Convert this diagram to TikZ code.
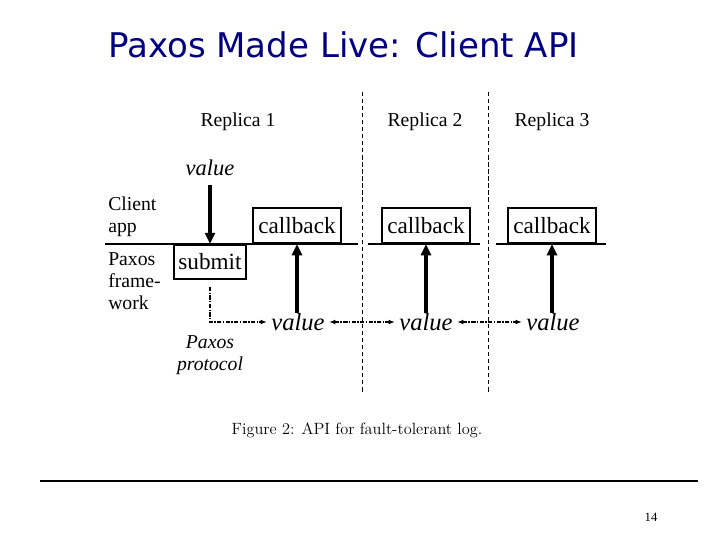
\documentclass[tikz,border=0pt]{standalone}
\usepackage{fontspec}
\setmainfont{Liberation Serif}
\newfontfamily\titlefont{DejaVu Sans}
\newfontfamily\capfont{Latin Modern Roman}
\usepackage{tikz}
\usetikzlibrary{arrows.meta,positioning}
\definecolor{titleblue}{RGB}{0,0,128}
\tikzset{
  lbl/.style={font=\fontsize{14}{15.6}\selectfont, inner sep=0pt, align=left},
  val/.style={font=\fontsize{17.5}{20}\selectfont\itshape, inner sep=0pt},
  apibox/.style={draw, line width=1.4pt, font=\fontsize{16.5}{18}\selectfont, inner sep=0pt,
                 minimum height=0.88cm},
  layer/.style={line width=1.4pt},
  divider/.style={densely dashed, line width=0.5pt},
  bigarrow/.style={-{Triangle[length=8pt,width=7pt]}, line width=2.6pt},
  protline/.style={line width=1pt, dash pattern=on 3pt off 1pt on 1pt off 1pt},
  protarrow/.style={protline, -{Latex[length=4.5pt,width=3.5pt]}},
  protboth/.style={protline, {Latex[length=4.5pt,width=3.5pt]}-{Latex[length=4.5pt,width=3.5pt]}},
}

\begin{document}
\begin{tikzpicture}[x=0.025cm, y=-0.025cm]
\useasboundingbox (0,0) rectangle (720,540);
% title and slide frame
\node[font=\fontsize{24.2}{27}\selectfont\titlefont, text=titleblue, anchor=west, inner sep=0pt] (title) at (108,45) {Paxos Made Live: Client API};
\draw[line width=1pt] (40,481) -- (698,481);
\node[font=\fontsize{9}{10}\selectfont, inner sep=0pt] (page) at (651,517) {14};
% replicas
\draw[divider] (362,92) -- (362,392);
\draw[divider] (488,92) -- (488,392);
\node[lbl] (rep1) at (238,122) {Replica 1};
\node[lbl] (rep2) at (425,122) {Replica 2};
\node[lbl] (rep3) at (552,122) {Replica 3};
% layers
\draw[layer] (105,244) -- (358,244);
\draw[layer] (368,244) -- (480,244);
\draw[layer] (496,244) -- (606,244);
\node[lbl, anchor=north west] (client) at (108,197) {Client\\app};
\node[lbl, anchor=north west] (framework) at (108,252) {Paxos\\frame-\\work};
% boxes
\node[apibox, minimum width=1.8cm, minimum height=0.85cm, anchor=north] (submit) at (210,244) {submit};
\node[apibox, minimum width=2.2cm, anchor=south] (cb1) at (297,244) {callback};
\node[apibox, minimum width=2.2cm, anchor=south] (cb2) at (426,244) {callback};
\node[apibox, minimum width=2.2cm, anchor=south] (cb3) at (552,244) {callback};
% values
\node[val, font=\fontsize{16}{18}\selectfont\itshape] (vin) at (210,168) {value};
\node[val] (v1) at (298,322) {value};
\node[val] (v2) at (426,322) {value};
\node[val] (v3) at (553,322) {value};
\node[lbl, align=center, font=\fontsize{14}{15.6}\selectfont\itshape] (proto) at (210,355) {Paxos\\protocol};
% arrows
\draw[bigarrow, shorten <=6pt] (vin.south) -- (submit.north);
\foreach \v/\c in {v1/cb1, v2/cb2, v3/cb3}
  \draw[bigarrow] (\v.north -| \c.south) -- (\c.south);
\draw[protarrow, shorten <=5pt, shorten >=3pt] (submit.south) |- (v1.west);
\draw[protboth, shorten <=3pt, shorten >=3pt] (v1.east) -- (v2.west);
\draw[protboth, shorten <=3pt, shorten >=3pt] (v2.east) -- (v3.west);
% caption
\node[font=\fontsize{11.6}{13}\selectfont\capfont, inner sep=0pt] (caption) at (357,430) {Figure 2: API for fault-tolerant log.};
\end{tikzpicture}
\end{document}
